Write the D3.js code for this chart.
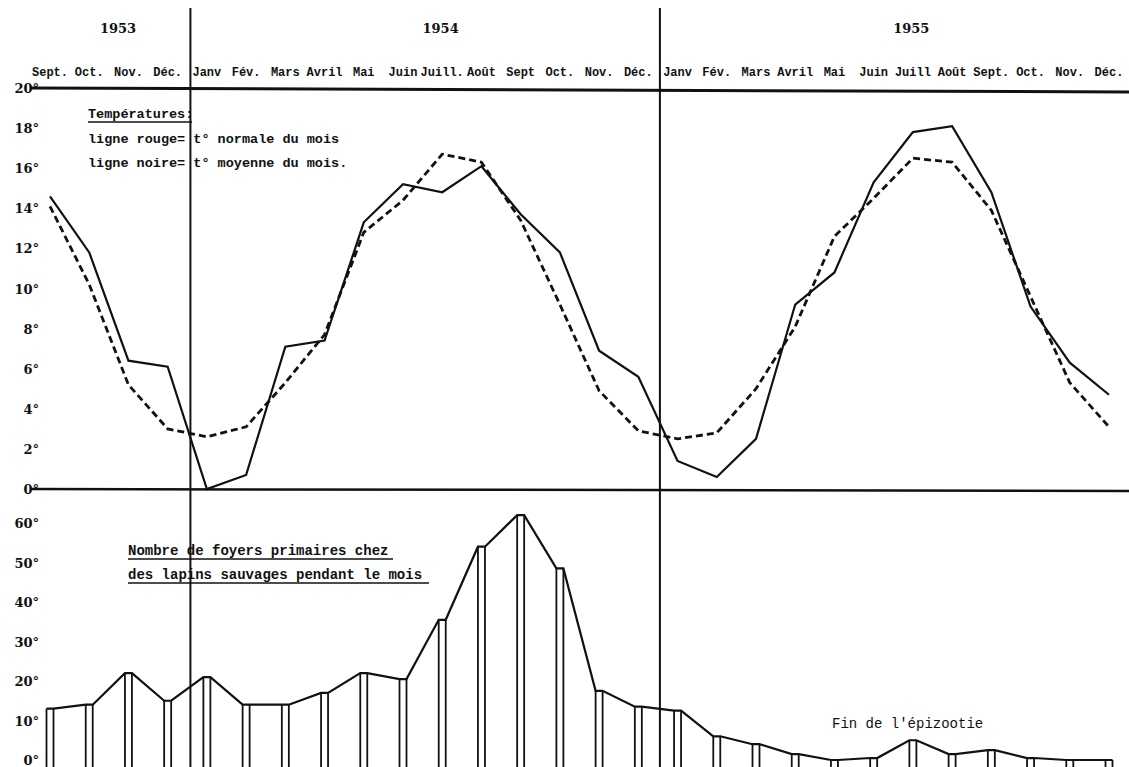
<!DOCTYPE html>
<html>
<head>
<meta charset="utf-8">
<script src="https://cdn.jsdelivr.net/npm/d3@7"></script>
<style>
  body { margin: 0; background: #fff; }
  svg { display: block; }
  .mono { font-family: "Liberation Mono", "DejaVu Sans Mono", monospace; font-weight: bold; fill: #111; }
  .serif { font-family: "DejaVu Serif", "Liberation Serif", serif; font-weight: bold; fill: #111; }
</style>
</head>
<body>
<svg id="chart" width="1129" height="767"></svg>
<script>

// Data
var months = ["Sept.", "Oct.", "Nov.", "Déc.", "Janv", "Fév.", "Mars", "Avril", "Mai", "Juin", "Juill.", "Août",
              "Sept", "Oct.", "Nov.", "Déc.", "Janv", "Fév.", "Mars", "Avril", "Mai", "Juin", "Juill", "Août",
              "Sept.", "Oct.", "Nov.", "Déc."];
var years = [{label: "1953", from: 0, to: 3}, {label: "1954", from: 4, to: 15}, {label: "1955", from: 16, to: 27}];

// t° normale du mois (dashed)
var tempNormale = [14.1, 10.2, 5.2, 3.0, 2.6, 3.1, 5.3, 7.7, 12.8, 14.4, 16.7, 16.3,
                   13.4, 9.2, 4.9, 2.9, 2.5, 2.8, 5.0, 8.1, 12.6, 14.5, 16.5, 16.3,
                   13.9, 9.6, 5.3, 3.1];
// t° moyenne du mois (solid)
var tempMoyenne = [14.6, 11.8, 6.4, 6.1, 0.0, 0.7, 7.1, 7.4, 13.3, 15.2, 14.8, 16.1,
                   13.7, 11.8, 6.9, 5.6, 1.4, 0.6, 2.5, 9.2, 10.8, 15.3, 17.8, 18.1,
                   14.8, 9.1, 6.3, 4.7];
// Nombre de foyers primaires
var foyers = [13, 14, 22, 15, 21, 14, 14, 17, 22, 20.5, 35.5, 54,
              62, 48.5, 17.5, 13.5, 12.5, 6, 4, 1.5, 0, 0.5, 5, 1.5,
              2.5, 0.5, 0, 0];

var tempTicks = [0, 2, 4, 6, 8, 10, 12, 14, 16, 18, 20];
var foyersTicks = [0, 10, 20, 30, 40, 50, 60];

var svg = d3.select("#chart");
var W = 1129, H = 767;

var x = d3.scaleLinear().domain([0, months.length - 1]).range([50, 1109]);
var yT = d3.scaleLinear().domain([0, 20]).range([489, 88]);
var yF = d3.scaleLinear().domain([0, 60]).range([760, 523]);

// Axes (labels only)
var axT = svg.append("g").attr("class", "serif")
    .attr("transform", "translate(39,0)")
    .call(d3.axisLeft(yT).tickValues(tempTicks).tickSize(0).tickFormat(function(d) { return d + "°"; }));
var axF = svg.append("g").attr("class", "serif")
    .attr("transform", "translate(39,0)")
    .call(d3.axisLeft(yF).tickValues(foyersTicks).tickSize(0).tickFormat(function(d) { return d + "°"; }));
[axT, axF].forEach(function(ax) {
  ax.select(".domain").remove();
  ax.selectAll("text").attr("class", "serif").style("font-size", "13px").attr("x", 0).attr("dy", "0.35em");
});

// Horizontal reference lines (20° and 0°)
svg.append("line")
    .attr("x1", 30).attr("x2", W).attr("y1", yT(20)).attr("y2", yT(20) + 4)
    .attr("stroke", "#111").attr("stroke-width", 3);
svg.append("line")
    .attr("x1", 30).attr("x2", W).attr("y1", yT(0)).attr("y2", yT(0) + 2)
    .attr("stroke", "#111").attr("stroke-width", 2.5);

// Year separators
[3.58, 15.55].forEach(function(p) {
  svg.append("line")
      .attr("x1", x(p)).attr("x2", x(p)).attr("y1", 8).attr("y2", H)
      .attr("stroke", "#111").attr("stroke-width", 2);
});

// Year labels
svg.selectAll(".year").data(years).enter()
  .append("text")
    .attr("class", "serif year")
    .attr("x", function(d) { return d.label === "1953" ? 118 : (x(d.from) + x(d.to)) / 2 + 18; })
    .attr("y", 33)
    .attr("text-anchor", "middle")
    .style("font-size", "13px")
    .text(function(d) { return d.label; });

// Month labels
svg.selectAll(".month").data(months).enter()
  .append("text")
    .attr("class", "mono month")
    .attr("x", function(d, i) { return x(i); })
    .attr("y", 76)
    .attr("text-anchor", "middle")
    .style("font-size", "12px")
    .text(function(d) { return d; });

// Temperature lines
var lineT = d3.line().x(function(d, i) { return x(i); }).y(function(d) { return yT(d); });
svg.append("path").datum(tempNormale)
    .attr("d", lineT).attr("fill", "none").attr("stroke", "#111")
    .attr("stroke-width", 2.8).attr("stroke-dasharray", "7,4");
svg.append("path").datum(tempMoyenne)
    .attr("d", lineT).attr("fill", "none").attr("stroke", "#111")
    .attr("stroke-width", 2.2).attr("stroke-linejoin", "miter");

// Foyers: double vertical bars with flat tops joined by a line
var half = 3.5;
var pts = [];
foyers.forEach(function(v, i) {
  pts.push([x(i) - half, yF(v)]);
  pts.push([x(i) + half, yF(v)]);
});
svg.append("path").datum(pts)
    .attr("d", d3.line())
    .attr("fill", "none").attr("stroke", "#111").attr("stroke-width", 2.2);

var bars = svg.selectAll(".bar").data(foyers).enter().append("g").attr("class", "bar");
[-half, half].forEach(function(off) {
  bars.append("line")
      .attr("x1", function(d, i) { return x(i) + off; })
      .attr("x2", function(d, i) { return x(i) + off; })
      .attr("y1", function(d) { return yF(d); })
      .attr("y2", H)
      .attr("stroke", "#111").attr("stroke-width", 1.8);
});

// Legends
var legT = svg.append("g").attr("class", "mono").style("font-size", "13.5px");
legT.append("text").attr("x", 88).attr("y", 118).text("Températures:");
legT.append("line").attr("x1", 88).attr("x2", 192).attr("y1", 122).attr("y2", 122)
    .attr("stroke", "#111").attr("stroke-width", 1.5);
legT.append("text").attr("x", 88).attr("y", 143).text("ligne rouge= t° normale du mois");
legT.append("text").attr("x", 88).attr("y", 167).text("ligne noire= t° moyenne du mois.");

var legF = svg.append("g").attr("class", "mono").style("font-size", "14px");
legF.append("text").attr("x", 128).attr("y", 555).text("Nombre de foyers primaires chez");
legF.append("line").attr("x1", 128).attr("x2", 393).attr("y1", 559).attr("y2", 559)
    .attr("stroke", "#111").attr("stroke-width", 1.5);
legF.append("text").attr("x", 128).attr("y", 579).text("des lapins sauvages pendant le mois");
legF.append("line").attr("x1", 128).attr("x2", 429).attr("y1", 583).attr("y2", 583)
    .attr("stroke", "#111").attr("stroke-width", 1.5);

svg.append("text")
    .attr("class", "mono")
    .style("font-weight", "normal")
    .style("font-size", "14px")
    .attr("x", 832).attr("y", 728)
    .text("Fin de l'épizootie");

</script>
</body>
</html>
